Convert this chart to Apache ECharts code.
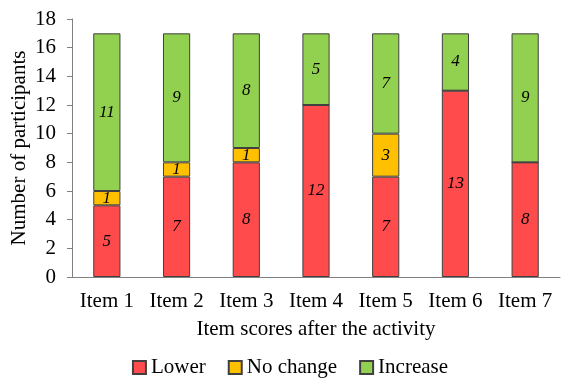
<!DOCTYPE html>
<html>
<head>
<meta charset="utf-8">
<script src="https://cdn.jsdelivr.net/npm/echarts@6/dist/echarts.min.js"></script>
<style>
  html, body { margin: 0; padding: 0; background: #fff; }
  #chart { width: 580px; height: 386px; }
</style>
</head>
<body>
<div id="chart"></div>
<script>
// 数据
var items = ['Item 1', 'Item 2', 'Item 3', 'Item 4', 'Item 5', 'Item 6', 'Item 7']
var lower = [5, 7, 8, 12, 7, 13, 8]
var noChange = [1, 1, 1, 0, 3, 0, 0]
var increase = [11, 9, 8, 5, 7, 4, 9]
var yTicks = [0, 2, 4, 6, 8, 10, 12, 14, 16, 18]

var font = '"Liberation Serif", "Times New Roman", serif'
var chart = echarts.init(document.getElementById('chart'))

function barSeries (name, data, color) {
  return {
    name: name,
    type: 'bar',
    stack: 'total',
    barWidth: '39%',
    data: data,
    itemStyle: { color: color, borderColor: '#404040', borderWidth: 1 },
    label: {
      show: true,
      position: 'inside',
      fontFamily: font,
      fontStyle: 'italic',
      fontSize: 17,
      color: '#000',
      formatter: function (p) { return p.value === 0 ? '' : p.value }
    }
  }
}

var option = {
  animation: false,
  textStyle: { fontFamily: font },
  grid: { left: 72, right: 20, top: 19, bottom: 109, outerBoundsMode: 'none' },
  legend: {
    bottom: 3,
    left: 'center',
    icon: 'rect',
    itemWidth: 13,
    itemHeight: 13,
    itemGap: 22,
    textStyle: { fontFamily: font, fontSize: 21, color: '#000' },
    data: ['Lower', 'No change', 'Increase']
  },
  xAxis: {
    type: 'category',
    data: items,
    name: 'Item scores after the activity',
    nameLocation: 'middle',
    nameGap: 42,
    nameTextStyle: { fontFamily: font, fontSize: 21, color: '#000' },
    axisLine: { lineStyle: { color: '#808080' } },
    axisTick: { show: false },
    axisLabel: { interval: 0, fontFamily: font, fontSize: 21, color: '#000', margin: 14 }
  },
  yAxis: {
    type: 'value',
    min: yTicks[0],
    max: yTicks[yTicks.length - 1],
    interval: 2,
    name: 'Number of participants',
    nameLocation: 'middle',
    nameGap: 42,
    nameMoveOverlap: false,
    nameTextStyle: { fontFamily: font, fontSize: 21, color: '#000' },
    axisLine: { show: true, lineStyle: { color: '#808080' } },
    axisTick: { show: true, length: 5, lineStyle: { color: '#808080' } },
    splitLine: { show: false },
    axisLabel: { fontFamily: font, fontSize: 21, color: '#000', margin: 16 }
  },
  series: [
    barSeries('Lower', lower, '#FF4B4B'),
    barSeries('No change', noChange, '#FFC000'),
    barSeries('Increase', increase, '#92D050')
  ]
}
chart.setOption(option)
</script>
</body>
</html>
